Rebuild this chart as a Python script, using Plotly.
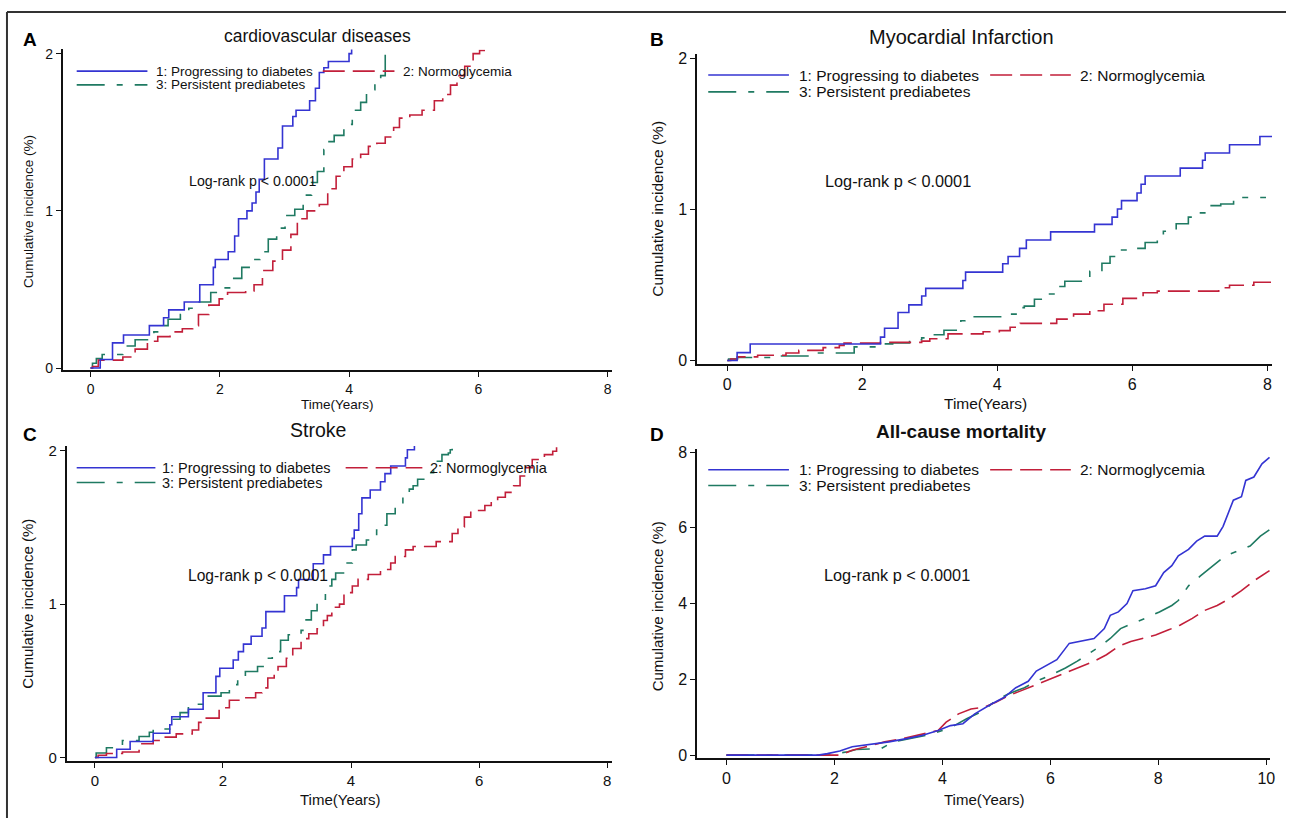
import plotly.graph_objects as go

W, H = 1291, 824

# ---------------- data ----------------
LABELS = ["1: Progressing to diabetes", "2: Normoglycemia", "3: Persistent prediabetes"]
TITLES = ["cardiovascular diseases", "Myocardial Infarction", "Stroke", "All-cause mortality"]
LETTERS = ["A", "B", "C", "D"]
PTEXT = "Log-rank p < 0.0001"

# A: cardiovascular diseases
cvd_t_prog = [0, 0.15, 0.34, 0.51, 0.91, 1.13, 1.21, 1.45, 1.69, 1.90, 1.93, 2.13, 2.23, 2.29, 2.42, 2.50, 2.56, 2.61, 2.69, 2.90, 2.97, 3.13, 3.18, 3.39, 3.48, 3.54, 3.61, 3.68, 4.0, 4.04]
cvd_y_prog = [0, 0.054, 0.16, 0.21, 0.27, 0.32, 0.37, 0.42, 0.53, 0.64, 0.69, 0.74, 0.84, 0.95, 1.0, 1.05, 1.12, 1.2, 1.33, 1.4, 1.54, 1.6, 1.64, 1.7, 1.78, 1.88, 1.91, 1.95, 2.0, 2.06]
cvd_t_norm = [0, 0.03, 0.12, 0.50, 0.69, 0.88, 1.04, 1.23, 1.42, 1.58, 1.67, 1.83, 1.99, 2.12, 2.40, 2.53, 2.66, 2.82, 2.97, 3.10, 3.20, 3.35, 3.54, 3.67, 3.80, 3.92, 4.05, 4.18, 4.30, 4.43, 4.56, 4.69, 4.78, 4.94, 5.13, 5.32, 5.45, 5.57, 5.67, 5.79, 5.92, 6.02, 6.17]
cvd_y_norm = [0, 0.01, 0.05, 0.07, 0.12, 0.17, 0.20, 0.23, 0.25, 0.27, 0.34, 0.40, 0.44, 0.48, 0.49, 0.53, 0.62, 0.68, 0.75, 0.85, 0.95, 1.0, 1.04, 1.14, 1.22, 1.28, 1.33, 1.36, 1.41, 1.43, 1.47, 1.53, 1.59, 1.61, 1.64, 1.70, 1.74, 1.80, 1.86, 1.92, 2.0, 2.02, 2.03]
cvd_t_pers = [0, 0.03, 0.09, 0.18, 0.50, 0.69, 0.98, 1.14, 1.20, 1.39, 1.52, 1.64, 1.86, 2.02, 2.18, 2.34, 2.50, 2.62, 2.75, 2.88, 3.01, 3.16, 3.29, 3.42, 3.51, 3.61, 3.67, 3.77, 3.92, 4.05, 4.18, 4.27, 4.40, 4.49, 4.56, 4.62]
cvd_y_pers = [0, 0.03, 0.06, 0.086, 0.14, 0.18, 0.23, 0.27, 0.31, 0.34, 0.38, 0.42, 0.48, 0.51, 0.57, 0.64, 0.69, 0.74, 0.82, 0.89, 0.97, 1.01, 1.10, 1.18, 1.25, 1.39, 1.44, 1.48, 1.55, 1.64, 1.69, 1.77, 1.84, 1.86, 2.0, 2.06]

# B: myocardial infarction
mi_t_prog = [0, 0.146, 0.34, 2.27, 2.33, 2.53, 2.69, 2.88, 2.94, 3.49, 3.53, 4.08, 4.16, 4.33, 4.43, 4.79, 5.44, 5.70, 5.78, 5.84, 6.07, 6.13, 6.19, 6.71, 7.04, 7.08, 7.44, 7.89, 8.07]
mi_y_prog = [0, 0.052, 0.109, 0.155, 0.213, 0.318, 0.368, 0.427, 0.477, 0.529, 0.585, 0.64, 0.688, 0.742, 0.797, 0.851, 0.901, 0.949, 1.003, 1.058, 1.108, 1.166, 1.221, 1.273, 1.325, 1.373, 1.428, 1.482, 1.482]
mi_t_norm = [0, 0.05, 0.15, 0.45, 0.87, 1.06, 1.42, 1.66, 1.73, 2.27, 2.88, 3.0, 3.27, 3.79, 4.03, 4.19, 4.34, 4.88, 5.13, 5.37, 5.58, 5.86, 6.16, 6.37, 7.28, 7.44, 7.80, 8.07]
mi_y_norm = [0, 0.01, 0.024, 0.035, 0.05, 0.067, 0.085, 0.1, 0.115, 0.12, 0.128, 0.144, 0.176, 0.19, 0.198, 0.22, 0.246, 0.274, 0.307, 0.329, 0.372, 0.411, 0.448, 0.459, 0.481, 0.498, 0.518, 0.518]
mi_t_pers = [0, 0.02, 0.15, 0.70, 1.30, 1.88, 2.27, 2.45, 2.70, 2.88, 3.0, 3.21, 3.46, 3.52, 4.09, 4.29, 4.40, 4.55, 4.67, 4.91, 5.0, 5.37, 5.55, 5.67, 5.80, 6.01, 6.19, 6.37, 6.46, 6.65, 6.83, 7.01, 7.10, 7.31, 7.50, 7.98]
mi_y_pers = [0, 0.01, 0.02, 0.03, 0.05, 0.09, 0.11, 0.117, 0.137, 0.15, 0.17, 0.2, 0.263, 0.29, 0.307, 0.35, 0.36, 0.405, 0.44, 0.49, 0.524, 0.59, 0.644, 0.688, 0.731, 0.742, 0.781, 0.829, 0.855, 0.905, 0.949, 0.977, 1.025, 1.036, 1.079, 1.079]

# C: stroke
st_t_prog = [0, 0.34, 0.55, 0.91, 1.17, 1.20, 1.46, 1.69, 1.89, 1.95, 2.16, 2.24, 2.32, 2.44, 2.61, 2.67, 2.96, 3.15, 3.18, 3.41, 3.57, 3.68, 4.02, 4.05, 4.12, 4.17, 4.30, 4.46, 4.53, 4.62, 4.85, 4.88, 4.99]
st_y_prog = [0, 0.054, 0.105, 0.158, 0.214, 0.266, 0.315, 0.422, 0.529, 0.582, 0.636, 0.69, 0.739, 0.79, 0.844, 0.951, 1.054, 1.107, 1.16, 1.263, 1.321, 1.375, 1.428, 1.482, 1.589, 1.692, 1.743, 1.797, 1.85, 1.9, 1.953, 2.006, 2.06]
st_t_norm = [0, 0.05, 0.18, 0.43, 0.69, 0.91, 1.07, 1.27, 1.52, 1.62, 1.71, 1.94, 2.10, 2.32, 2.51, 2.61, 2.70, 2.80, 2.86, 2.99, 3.09, 3.22, 3.34, 3.47, 3.57, 3.63, 3.70, 3.82, 3.89, 4.02, 4.11, 4.27, 4.46, 4.62, 4.69, 4.85, 4.97, 5.33, 5.58, 5.67, 5.77, 5.87, 6.09, 6.19, 6.29, 6.41, 6.54, 6.64, 6.73, 6.83, 7.02, 7.15, 7.21]
st_y_norm = [0, 0.015, 0.026, 0.036, 0.09, 0.111, 0.133, 0.154, 0.18, 0.229, 0.257, 0.325, 0.373, 0.39, 0.422, 0.454, 0.518, 0.55, 0.593, 0.647, 0.711, 0.775, 0.807, 0.839, 0.893, 0.925, 0.979, 1.0, 1.075, 1.118, 1.161, 1.193, 1.225, 1.268, 1.31, 1.353, 1.375, 1.407, 1.46, 1.503, 1.567, 1.61, 1.642, 1.675, 1.696, 1.728, 1.771, 1.835, 1.889, 1.942, 1.974, 1.996, 2.06]
st_t_pers = [0, 0.02, 0.18, 0.43, 0.69, 0.85, 0.91, 1.17, 1.33, 1.46, 1.71, 1.97, 2.10, 2.23, 2.35, 2.54, 2.67, 2.77, 2.90, 3.02, 3.22, 3.28, 3.38, 3.47, 3.60, 3.70, 3.76, 3.92, 4.02, 4.08, 4.24, 4.40, 4.49, 4.56, 4.69, 4.81, 4.91, 4.97, 5.04, 5.20, 5.29, 5.42, 5.52, 5.55, 5.58]
st_y_pers = [0, 0.03, 0.064, 0.111, 0.137, 0.165, 0.186, 0.25, 0.293, 0.347, 0.4, 0.422, 0.475, 0.507, 0.561, 0.593, 0.647, 0.69, 0.764, 0.8, 0.829, 0.897, 0.957, 1.032, 1.118, 1.161, 1.203, 1.268, 1.353, 1.385, 1.418, 1.482, 1.514, 1.589, 1.642, 1.717, 1.749, 1.771, 1.814, 1.857, 1.931, 1.974, 1.985, 2.006, 2.06]

# D: all-cause mortality
mort_t_prog = [0, 1.70, 1.87, 2.10, 2.33, 3.01, 3.31, 3.62, 3.92, 4.15, 4.38, 4.60, 4.91, 5.14, 5.36, 5.59, 5.74, 5.97, 6.12, 6.35, 6.81, 7.0, 7.11, 7.26, 7.42, 7.53, 7.76, 7.95, 8.10, 8.25, 8.37, 8.56, 8.71, 8.86, 9.09, 9.20, 9.32, 9.39, 9.54, 9.62, 9.77, 9.92, 10.06]
mort_y_prog = [0, 0, 0.04, 0.11, 0.22, 0.35, 0.43, 0.52, 0.65, 0.78, 0.83, 1.09, 1.35, 1.52, 1.78, 1.95, 2.22, 2.39, 2.52, 2.95, 3.08, 3.34, 3.69, 3.78, 4.0, 4.34, 4.39, 4.47, 4.82, 5.0, 5.26, 5.43, 5.65, 5.78, 5.78, 6.04, 6.47, 6.73, 6.82, 7.25, 7.34, 7.69, 7.86]
mort_t_norm = [0, 2.10, 2.33, 2.63, 2.93, 3.24, 3.62, 3.92, 4.07, 4.30, 4.53, 4.76, 4.98, 5.21, 5.44, 5.67, 5.90, 6.12, 6.35, 6.58, 6.81, 7.04, 7.26, 7.49, 7.72, 7.95, 8.18, 8.40, 8.63, 8.86, 9.09, 9.32, 9.54, 9.77, 10.06]
mort_y_norm = [0, 0, 0.13, 0.23, 0.35, 0.43, 0.56, 0.65, 0.87, 1.09, 1.22, 1.26, 1.39, 1.56, 1.69, 1.82, 1.95, 2.09, 2.22, 2.35, 2.48, 2.65, 2.87, 3.0, 3.08, 3.17, 3.30, 3.43, 3.61, 3.82, 3.95, 4.13, 4.34, 4.60, 4.87]
mort_t_pers = [0, 1.90, 2.02, 2.25, 2.40, 2.86, 3.09, 3.39, 3.69, 4.0, 4.22, 4.45, 4.76, 4.98, 5.21, 5.52, 5.74, 5.97, 6.28, 6.50, 6.73, 6.96, 7.11, 7.30, 7.53, 7.76, 8.02, 8.25, 8.37, 8.56, 8.78, 9.01, 9.24, 9.47, 9.70, 9.89, 10.06]
mort_y_pers = [0, 0, 0.04, 0.09, 0.15, 0.17, 0.35, 0.43, 0.52, 0.65, 0.78, 0.96, 1.17, 1.43, 1.61, 1.78, 1.95, 2.09, 2.30, 2.48, 2.69, 2.91, 3.08, 3.34, 3.48, 3.61, 3.78, 3.95, 4.08, 4.47, 4.73, 5.0, 5.26, 5.39, 5.52, 5.78, 5.95]

X_TICKS_8 = [0, 2, 4, 6, 8]
X_TICKS_10 = [0, 2, 4, 6, 8, 10]
Y_TICKS_2 = [0, 1, 2]
Y_TICKS_8 = [0, 2, 4, 6, 8]

# ---------------- styling ----------------
FONT = "Liberation Sans, Arial, sans-serif"
COL = ["#3434D2", "#C21F3A", "#1F7A62"]          # prog, norm, pers
DASH = ["solid", "22px,8px", "28px,12px,6px,12px"]
LW = 1.6


def px(x):
    return x / W


def py(y):
    return 1 - y / H


# per panel layout (pixel geometry)
panels = [
    dict(series=[(cvd_t_prog, cvd_y_prog), (cvd_t_norm, cvd_y_norm), (cvd_t_pers, cvd_y_pers)],
         xdom=(63, 614), ydom=(45, 370), xr=(-0.43, 8.063), yr=(-0.013, 2.027),
         xt=X_TICKS_8, yt=Y_TICKS_2, shape="hv", fs=14,
         title=(319, 31, 17.5, False), letter=(30, 35), ytitle=(28, 209, 13.5), xtitle=(339, 405, 13.5),
         ptext=(253, 178, 14.2), leg=dict(l1=(77, 148), l2=(324, 396), tx1=155, tx2=403, r1=67, r2=81, fs=13.5)),
    dict(series=[(mi_t_prog, mi_y_prog), (mi_t_norm, mi_y_norm), (mi_t_pers, mi_y_pers)],
         xdom=(700, 1277), ydom=(50, 364), xr=(-0.444, 8.07), yr=(-0.024, 2.026),
         xt=X_TICKS_8, yt=Y_TICKS_2, shape="hv", fs=16,
         title=(965, 32, 20, False), letter=(660, 35), ytitle=(660, 206, 15.5), xtitle=(989, 404, 15.5),
         ptext=(901, 178, 16.3), leg=dict(l1=(711, 792), l2=(994, 1075), tx1=800, tx2=1082, r1=71, r2=88, fs=15.5)),
    dict(series=[(st_t_prog, st_y_prog), (st_t_norm, st_y_norm), (st_t_pers, st_y_pers)],
         xdom=(67, 614), ydom=(447, 766), xr=(-0.44, 8.07), yr=(-0.021, 2.03),
         xt=X_TICKS_8, yt=Y_TICKS_2, shape="hv", fs=15,
         title=(319, 431, 19.5, False), letter=(30, 435), ytitle=(28, 607, 15), xtitle=(342, 805, 15),
         ptext=(259, 578, 15.6), leg=dict(l1=(77, 156), l2=(347, 424), tx1=161, tx2=430, r1=469, r2=484, fs=14.5)),
    dict(series=[(mort_t_prog, mort_y_prog), (mort_t_norm, mort_y_norm), (mort_t_pers, mort_y_pers)],
         xdom=(700, 1275), ydom=(450, 763), xr=(-0.54, 10.07), yr=(-0.07, 8.08),
         xt=X_TICKS_10, yt=Y_TICKS_8, shape="linear", fs=16,
         title=(965, 432, 19, True), letter=(660, 435), ytitle=(660, 609, 15), xtitle=(988, 805, 15),
         ptext=(900, 578, 16.3), leg=dict(l1=(711, 792), l2=(994, 1075), tx1=800, tx2=1082, r1=471, r2=487, fs=15.5)),
]

fig = go.Figure()
annotations = []
shapes = []

for i, p in enumerate(panels):
    n = "" if i == 0 else str(i + 1)
    xa, ya = "x" + n, "y" + n
    # traces: draw persistent, normoglycemia, then progressing on top
    for k in [2, 1, 0]:
        t, y = p["series"][k]
        fig.add_trace(go.Scatter(
            x=t, y=y, mode="lines", xaxis=xa, yaxis=ya, showlegend=False, name=LABELS[k],
            line=dict(color=COL[k], width=LW, dash=DASH[k], shape=p["shape"]),
            hoverinfo="skip"))
    axcommon = dict(showgrid=False, zeroline=False, showline=True, linecolor="#111", linewidth=2,
                    ticks="outside", ticklen=5, tickwidth=1.2, tickcolor="#111",
                    tickfont=dict(family=FONT, size=p["fs"], color="#111"))
    fig.update_layout(**{
        "xaxis" + n: dict(domain=[px(p["xdom"][0]), px(p["xdom"][1])], range=list(p["xr"]),
                          tickvals=p["xt"], anchor=ya, **axcommon),
        "yaxis" + n: dict(domain=[py(p["ydom"][1]), py(p["ydom"][0])], range=list(p["yr"]),
                          tickvals=p["yt"], anchor=xa, **axcommon),
    })

    tx, ty, tfs, tb = p["title"]
    annotations.append(dict(x=px(tx), y=py(ty), xref="paper", yref="paper", showarrow=False,
                            text=("<b>%s</b>" % TITLES[i]) if tb else TITLES[i],
                            font=dict(family=FONT, size=tfs, color="#111"), xanchor="center", yanchor="middle"))
    lx, ly = p["letter"]
    annotations.append(dict(x=px(lx), y=py(ly), xref="paper", yref="paper", showarrow=False,
                            text="<b>%s</b>" % LETTERS[i], font=dict(family=FONT, size=19, color="#000"),
                            xanchor="center", yanchor="middle"))
    yx, yy, yfs = p["ytitle"]
    annotations.append(dict(x=px(yx), y=py(yy), xref="paper", yref="paper", showarrow=False,
                            text="Cumulative incidence (%)", textangle=-90,
                            font=dict(family=FONT, size=yfs, color="#111"), xanchor="center", yanchor="middle"))
    xx, xy, xfs = p["xtitle"]
    annotations.append(dict(x=px(xx), y=py(xy), xref="paper", yref="paper", showarrow=False,
                            text="Time(Years)", font=dict(family=FONT, size=xfs, color="#111"),
                            xanchor="center", yanchor="middle"))
    ptx, pty, pfs = p["ptext"]
    annotations.append(dict(x=px(ptx), y=py(pty), xref="paper", yref="paper", showarrow=False,
                            text=PTEXT, font=dict(family=FONT, size=pfs, color="#111"),
                            xanchor="center", yanchor="middle"))
    # manual legend (two rows: 1 & 2, then 3)
    lg = p["leg"]
    rows = [(lg["l1"], lg["r1"], lg["tx1"], 0), (lg["l2"], lg["r1"], lg["tx2"], 1), (lg["l1"], lg["r2"], lg["tx1"], 2)]
    for (x0, x1), ry, txx, k in rows:
        shapes.append(dict(type="line", xref="paper", yref="paper", x0=px(x0), x1=px(x1), y0=py(ry), y1=py(ry),
                           line=dict(color=COL[k], width=LW, dash=DASH[k]), layer="above"))
        annotations.append(dict(x=px(txx), y=py(ry), xref="paper", yref="paper", showarrow=False,
                                text=LABELS[k], font=dict(family=FONT, size=lg["fs"], color="#111"),
                                xanchor="left", yanchor="middle"))

# figure frame (top and left border)
shapes.append(dict(type="line", xref="paper", yref="paper", x0=px(7), x1=1, y0=py(7), y1=py(7),
                   line=dict(color="#333", width=2)))
shapes.append(dict(type="line", xref="paper", yref="paper", x0=px(7), x1=px(7), y0=0, y1=py(7),
                   line=dict(color="#333", width=2)))

fig.update_layout(width=W, height=H, autosize=False, margin=dict(l=0, r=0, t=0, b=0),
                  paper_bgcolor="white", plot_bgcolor="white", showlegend=False,
                  annotations=annotations, shapes=shapes)

fig.write_html("out.html", config={"displayModeBar": False},
               post_script="document.body.style.margin='0';document.body.style.overflow='hidden';")
